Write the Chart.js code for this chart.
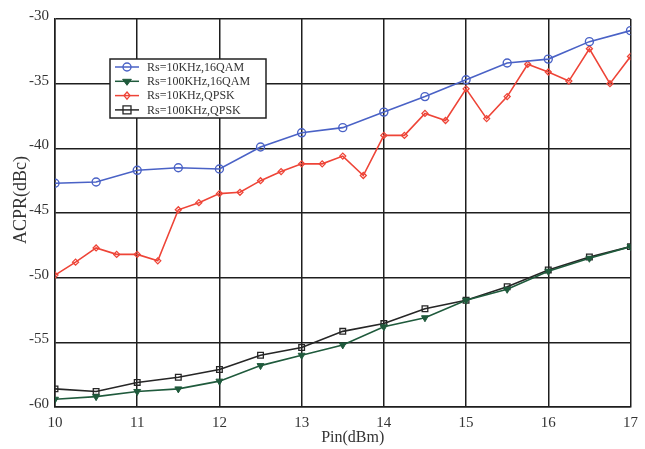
<!DOCTYPE html>
<html>
<head>
<meta charset="utf-8">
<script src="https://cdn.jsdelivr.net/npm/chart.js@4.4.1/dist/chart.umd.min.js"></script>
<style>
html,body{margin:0;padding:0;background:#fff;}
canvas{display:block;}
</style>
</head>
<body>
<canvas id="c" width="645" height="449"></canvas>
<script>
// ---- data ----
const pinHalfStep = [10, 10.5, 11, 11.5, 12, 12.5, 13, 13.5, 14, 14.5, 15, 15.5, 16, 16.5, 17];
const pinQuarterStep = [10, 10.25, 10.5, 10.75, 11, 11.25, 11.5, 11.75, 12, 12.25, 12.5, 12.75,
  13, 13.25, 13.5, 13.75, 14, 14.25, 14.5, 14.75, 15, 15.25, 15.5, 15.75, 16, 16.25, 16.5, 16.75, 17];

const rs10k16qam  = [-42.7, -42.6, -41.7, -41.5, -41.6, -39.9, -38.8, -38.4, -37.2, -36.0, -34.7, -33.4, -33.1, -31.75, -30.9];
const rs100k16qam = [-59.4, -59.2, -58.8, -58.6, -58.0, -56.8, -56.0, -55.2, -53.8, -53.1, -51.75, -50.9, -49.5, -48.5, -47.6];
const rs10kQpsk   = [-49.8, -48.8, -47.7, -48.2, -48.2, -48.7, -44.75, -44.2, -43.5, -43.4, -42.5, -41.8,
  -41.2, -41.2, -40.6, -42.1, -39.0, -39.0, -37.3, -37.85, -35.4, -37.7, -36.0, -33.5, -34.1, -34.8, -32.3, -35.0, -32.9];
const rs100kQpsk  = [-58.6, -58.8, -58.1, -57.7, -57.1, -56.0, -55.4, -54.15, -53.55, -52.4, -51.75, -50.7, -49.4, -48.4, -47.6];

const seriesLabels = ['Rs=10KHz,16QAM', 'Rs=100KHz,16QAM', 'Rs=10KHz,QPSK', 'Rs=100KHz,QPSK'];
const xTicks = [10, 11, 12, 13, 14, 15, 16, 17];
const yTicks = [-60, -55, -50, -45, -40, -35, -30];
const xTitle = 'Pin(dBm)';
const yTitle = 'ACPR(dBc)';

const toPts = (xs, ys) => ys.map((y, i) => ({x: xs[i], y}));

// ---- in-plot boxed legend ----
function drawMarker(ctx, style, r, rot, x, y, stroke, fill, bw) {
  ctx.save();
  ctx.translate(x, y);
  ctx.rotate((rot || 0) * Math.PI / 180);
  ctx.beginPath();
  if (style === 'circle') {
    ctx.arc(0, 0, r, 0, Math.PI * 2);
  } else if (style === 'rect') {
    ctx.rect(-r, -r, 2 * r, 2 * r);
  } else if (style === 'rectRot') {
    ctx.moveTo(0, -r * 1.2); ctx.lineTo(r, 0); ctx.lineTo(0, r * 1.2); ctx.lineTo(-r, 0); ctx.closePath();
  } else if (style === 'triangle') {
    const h = r * 1.5;
    ctx.moveTo(0, -h * 2 / 3); ctx.lineTo(r * 1.1, h / 3); ctx.lineTo(-r * 1.1, h / 3); ctx.closePath();
  }
  if (fill && fill !== 'transparent') { ctx.fillStyle = fill; ctx.fill(); }
  ctx.lineWidth = bw; ctx.strokeStyle = stroke; ctx.stroke();
  ctx.restore();
}

const serif = "'Liberation Serif', 'Times New Roman', serif";

const boxLegend = {
  id: 'boxLegend',
  afterDatasetsDraw(chart) {
    const ctx = chart.ctx;
    const a = chart.chartArea;
    const x0 = a.left + 55, y0 = a.top + 40, w = 156, h = 59;
    ctx.save();
    ctx.fillStyle = '#fff';
    ctx.fillRect(x0, y0, w, h);
    ctx.lineWidth = 1.5;
    ctx.strokeStyle = '#222';
    ctx.strokeRect(x0, y0, w, h);
    ctx.font = "12px " + serif;
    ctx.textBaseline = 'middle';
    chart.data.datasets.forEach((ds, i) => {
      const y = y0 + 8 + i * 14.3;
      ctx.beginPath();
      ctx.moveTo(x0 + 5, y); ctx.lineTo(x0 + 29, y);
      ctx.lineWidth = 1.5; ctx.strokeStyle = ds.borderColor; ctx.stroke();
      drawMarker(ctx, ds.pointStyle, ds.pointRadius, ds.pointRotation, x0 + 17, y,
        ds.borderColor, ds.pointBackgroundColor, ds.pointBorderWidth);
      ctx.fillStyle = '#333';
      ctx.fillText(seriesLabels[i], x0 + 37, y + 0.5);
    });
    ctx.restore();
  }
};

// ---- axis titles drawn as text, placed like the reference ----
const axisTitles = {
  id: 'axisTitles',
  afterDraw(chart) {
    const ctx = chart.ctx;
    const a = chart.chartArea;
    ctx.save();
    ctx.fillStyle = '#333';
    ctx.textAlign = 'center';
    ctx.textBaseline = 'middle';
    ctx.font = "16px " + serif;
    ctx.fillText(xTitle, (a.left + a.right) / 2 + 10, a.bottom + 31);
    ctx.translate(21, (a.top + a.bottom) / 2 - 13);
    ctx.rotate(-Math.PI / 2);
    ctx.font = "18px " + serif;
    ctx.fillText(yTitle, 0, 0);
    ctx.restore();
  }
};

Chart.defaults.font.family = serif;
Chart.defaults.color = '#333';

new Chart(document.getElementById('c'), {
  type: 'line',
  data: {
    datasets: [
      { label: seriesLabels[0], data: toPts(pinHalfStep, rs10k16qam), borderColor: '#4a62c6', borderWidth: 1.6,
        pointStyle: 'circle', pointRadius: 4, pointBorderWidth: 1.4, pointBackgroundColor: 'transparent', pointRotation: 0 },
      { label: seriesLabels[1], data: toPts(pinHalfStep, rs100k16qam), borderColor: '#1f5a3c', borderWidth: 1.6,
        pointStyle: 'triangle', pointRadius: 4, pointBorderWidth: 1, pointBackgroundColor: '#1f5a3c', pointRotation: 180 },
      { label: seriesLabels[2], data: toPts(pinQuarterStep, rs10kQpsk), borderColor: '#ee4437', borderWidth: 1.6,
        pointStyle: 'rectRot', pointRadius: 3, pointBorderWidth: 1.3, pointBackgroundColor: 'transparent', pointRotation: 0 },
      { label: seriesLabels[3], data: toPts(pinHalfStep, rs100kQpsk), borderColor: '#262626', borderWidth: 1.6,
        pointStyle: 'rect', pointRadius: 4, pointBorderWidth: 1.3, pointBackgroundColor: 'transparent', pointRotation: 0 }
    ]
  },
  options: {
    responsive: false,
    animation: false,
    layout: { padding: { top: 19, right: 8, left: 0, bottom: 0 } },
    plugins: { legend: { display: false }, tooltip: { enabled: false } },
    elements: { line: { tension: 0 } },
    scales: {
      x: {
        type: 'linear', min: 10, max: 17,
        afterBuildTicks: s => { s.ticks = xTicks.map(v => ({value: v})); },
        afterFit: s => { s.height = 42; },
        ticks: { color: '#333', font: { size: 15 }, padding: 7 },
        grid: { color: '#1e1e1e', lineWidth: 1.5, drawTicks: false },
        border: { color: '#1e1e1e', width: 1.5 },
        title: { display: false }
      },
      y: {
        type: 'linear', min: -60, max: -30,
        afterBuildTicks: s => { s.ticks = yTicks.map(v => ({value: v})); },
        afterFit: s => { s.width = 55; },
        ticks: { color: '#333', font: { size: 15 }, padding: 6, labelOffset: -3 },
        grid: { color: '#1e1e1e', lineWidth: 1.5, drawTicks: false },
        border: { color: '#1e1e1e', width: 1.5 },
        title: { display: false }
      }
    }
  },
  plugins: [boxLegend, axisTitles]
});
</script>
</body>
</html>
